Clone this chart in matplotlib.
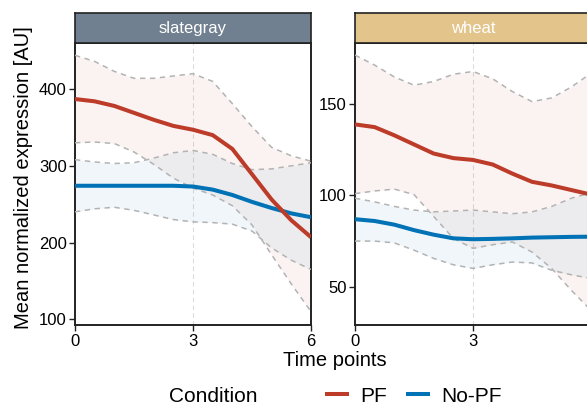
import numpy as np
import matplotlib
matplotlib.use("Agg")
import matplotlib.pyplot as plt
from matplotlib.lines import Line2D

plt.rcParams['font.family'] = ['Liberation Sans', 'DejaVu Sans']

# values, every half time point
time = [0, 0.5, 1, 1.5, 2, 2.5, 3, 3.5, 4, 4.5, 5, 5.5, 6]

# panel "slategray"
sg_pf_mean = [387, 384, 378, 369, 360, 352, 347, 340, 322, 289, 256, 229, 207]
sg_pf_upper = [444, 436, 423, 414, 414, 417, 420, 410, 381, 351, 324, 313, 306]
sg_pf_lower = [330, 331, 329, 318, 302, 284, 271, 262, 248, 223, 184, 146, 110]
sg_nopf_mean = [274, 274, 274, 274, 274, 274, 273, 269, 262, 253, 245, 238, 233]
sg_nopf_upper = [308, 305, 303, 304, 310, 317, 320, 315, 303, 295, 296, 300, 304]
sg_nopf_lower = [240, 244, 246, 242, 236, 230, 227, 226, 224, 215, 193, 177, 165]

# panel "wheat"
wh_pf_mean = [139, 137.5, 133, 128, 123, 120.5, 119.5, 117, 112, 107.5, 105.5, 103, 100.5]
wh_pf_upper = [177, 171.5, 165, 160.5, 162.5, 166.5, 168, 164, 157, 151.5, 153.5, 159.5, 167]
wh_pf_lower = [101, 102.5, 103.5, 100.5, 88.5, 76.5, 71, 73, 74.5, 69, 60, 48, 37]
wh_nopf_mean = [87, 86, 84, 81, 78.5, 76.5, 76, 76.2, 76.5, 76.9, 77.1, 77.3, 77.4]
wh_nopf_upper = [98.5, 96.5, 94, 92, 91, 91.5, 92, 91, 90, 91, 94, 98.5, 101.5]
wh_nopf_lower = [75, 75, 74, 70, 65.5, 62, 60, 62, 63.5, 63, 59, 56.5, 54.5]

panels = ["slategray", "wheat"]
strip_colors = ["#708090", "#E3C48B"]
ylims = [(92.2, 460.4), (28.8, 183.8)]
yticks = [[100, 200, 300, 400], [50, 100, 150]]
xticks = [0, 3, 6]
conditions = ["PF", "No-PF"]

red = "#BC3C29"
blue = "#0072B5"
ci_gray = "#b3b3b3"

W, H = 587, 405
fig = plt.figure(figsize=(W / 100, H / 100), dpi=100)

def fx(px):
    return px / W

def fy(py):
    return 1 - py / H

lefts = [75, 355]
ax_w = 236
top, bottom = 42.7, 325.3
strip_top = 13.3

data = [
    (sg_pf_mean, sg_pf_lower, sg_pf_upper, sg_nopf_mean, sg_nopf_lower, sg_nopf_upper),
    (wh_pf_mean, wh_pf_lower, wh_pf_upper, wh_nopf_mean, wh_nopf_lower, wh_nopf_upper),
]

for i, name in enumerate(panels):
    ax = fig.add_axes([fx(lefts[i]), fy(bottom), ax_w / W, (bottom - top) / H])
    pf_m, pf_l, pf_u, np_m, np_l, np_u = data[i]

    ax.axvline(3, color="#dcdcdc", lw=0.8, ls=(0, (4, 3)), zorder=1)

    ax.fill_between(time, pf_l, pf_u, color=red, alpha=0.06, lw=0, zorder=2)
    ax.fill_between(time, np_l, np_u, color=blue, alpha=0.06, lw=0, zorder=2)
    for s in [pf_l, pf_u, np_l, np_u]:
        ax.plot(time, s, color=ci_gray, lw=1.1, ls=(0, (3.5, 3)), zorder=3)

    ax.plot(time, np_m, color=blue, lw=2.9, solid_capstyle="butt", zorder=4)
    ax.plot(time, pf_m, color=red, lw=2.9, solid_capstyle="butt", zorder=5)

    ax.set_xlim(0, 6)
    ax.set_ylim(*ylims[i])
    ax.set_xticks(xticks)
    ax.set_yticks(yticks[i])
    ax.tick_params(labelsize=12, length=4, width=1, color="#222222", pad=2)
    for sp in ax.spines.values():
        sp.set_linewidth(1.4)
        sp.set_color("#222222")

    # facet strip
    sax = fig.add_axes([fx(lefts[i]), fy(top), ax_w / W, (top - strip_top) / H])
    sax.set_facecolor(strip_colors[i])
    sax.set_xticks([])
    sax.set_yticks([])
    for sp in sax.spines.values():
        sp.set_linewidth(1.2)
        sp.set_color("#222222")
    sax.text(0.5, 0.48, name, color="white", fontsize=12,
             ha="center", va="center", transform=sax.transAxes)

fig.text(fx(24), fy(178), "Mean normalized expression [AU]", rotation=90,
         fontsize=14.5, ha="center", va="center")
fig.text(fx(335), fy(361), "Time points", fontsize=14.5, ha="center", va="center")

# legend at the bottom, title to the left of the keys
fig.text(fx(213), fy(396), "Condition", fontsize=15, ha="center", va="center")
handles = [Line2D([], [], color=red, lw=2.9), Line2D([], [], color=blue, lw=2.9)]
fig.legend(handles, conditions, loc="center", bbox_to_anchor=(fx(414), fy(396)),
           ncol=2, frameon=False, fontsize=15, handlelength=1.0,
           handletextpad=0.6, columnspacing=1.0, borderpad=0)

fig.savefig("out.png", dpi=100)
